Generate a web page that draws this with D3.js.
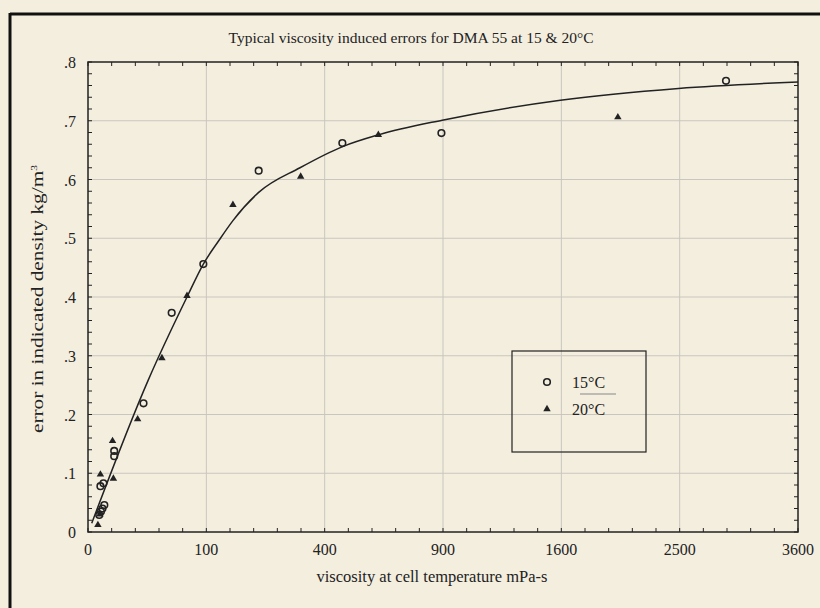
<!DOCTYPE html>
<html>
<head>
<meta charset="utf-8">
<script src="https://cdn.jsdelivr.net/npm/d3@7"></script>
<style>
	body { margin: 0; background: #f4eedf; }
	svg { display: block; }
	text { font-family: "Liberation Serif", "Times New Roman", serif; fill: #222; }
</style>
</head>
<body>
<svg id="chart" width="820" height="608"></svg>
<script>

// values (viscosity mPa-s, error kg/m3)
var visc15 = [0.9, 1.2, 1.5, 1.9, 1.1, 1.7, 4.9, 4.9, 22, 50, 95, 208, 462, 892, 2907];
var err15  = [0.029, 0.035, 0.040, 0.046, 0.078, 0.083, 0.138, 0.129, 0.219, 0.373, 0.456, 0.615, 0.662, 0.679, 0.768];

var visc20 = [0.7, 1.0, 1.1, 4.6, 4.3, 17.6, 39, 70, 150, 323, 602, 2005];
var err20  = [0.012, 0.030, 0.098, 0.091, 0.155, 0.192, 0.296, 0.402, 0.557, 0.605, 0.676, 0.706];

// fitted line
var fitVisc = [0.1, 26, 70, 95, 123, 150, 208, 321, 463, 602, 896, 1594, 2490, 3600];
var fitErr  = [0.015, 0.259, 0.40, 0.456, 0.497, 0.530, 0.578, 0.620, 0.656, 0.676, 0.701, 0.735, 0.755, 0.766];

var xTicks = [0, 100, 400, 900, 1600, 2500, 3600];
var yTicks = [0, 0.1, 0.2, 0.3, 0.4, 0.5, 0.6, 0.7, 0.8];

var seriesNames = ["15\u00B0C", "20\u00B0C"];

var ink = "#222";

var svg = d3.select("#chart");

var plotLeft = 88, plotRight = 798, plotTop = 62, plotBottom = 532;

var x = d3.scaleSqrt().domain([0, 3600]).range([plotLeft, plotRight]);
var y = d3.scaleLinear().domain([0, 0.8]).range([plotBottom, plotTop]);

// page frame
svg.append("line")
	.attr("x1", 10).attr("x2", 820).attr("y1", 14).attr("y2", 14)
	.attr("stroke", "#111").attr("stroke-width", 3);
svg.append("line")
	.attr("x1", 10).attr("x2", 10).attr("y1", 13).attr("y2", 608)
	.attr("stroke", "#111").attr("stroke-width", 3);

// title
svg.append("text")
	.attr("x", 411).attr("y", 43)
	.attr("text-anchor", "middle")
	.style("font-size", "15.5px")
	.text("Typical viscosity induced errors for DMA 55 at 15 & 20\u00B0C");

// grid
var grid = svg.append("g").attr("stroke", "#c9c6bd").attr("stroke-width", 1);

grid.selectAll(".gx")
	.data(xTicks.slice(1, -1))
	.enter().append("line")
	.attr("x1", function(d) { return x(d); })
	.attr("x2", function(d) { return x(d); })
	.attr("y1", plotTop).attr("y2", plotBottom);

grid.selectAll(".gy")
	.data(yTicks.slice(1, -1))
	.enter().append("line")
	.attr("x1", plotLeft).attr("x2", plotRight)
	.attr("y1", function(d) { return y(d); })
	.attr("y2", function(d) { return y(d); });

// minor ticks, inside the frame
var xMinor = d3.range(0, 61, 2).map(function(s) { return s * s; });
var yMinor = d3.range(0, 41).map(function(i) { return i * 0.02; });

var ticks = svg.append("g").attr("stroke", ink).attr("stroke-width", 1);

xMinor.forEach(function(d) {
	ticks.append("line").attr("x1", x(d)).attr("x2", x(d)).attr("y1", plotBottom).attr("y2", plotBottom - 4);
	ticks.append("line").attr("x1", x(d)).attr("x2", x(d)).attr("y1", plotTop).attr("y2", plotTop + 4);
});

yMinor.forEach(function(d) {
	ticks.append("line").attr("x1", plotLeft).attr("x2", plotLeft + 4).attr("y1", y(d)).attr("y2", y(d));
	ticks.append("line").attr("x1", plotRight).attr("x2", plotRight - 4).attr("y1", y(d)).attr("y2", y(d));
});

// plot frame
svg.append("rect")
	.attr("x", plotLeft).attr("y", plotTop)
	.attr("width", plotRight - plotLeft).attr("height", plotBottom - plotTop)
	.attr("fill", "none").attr("stroke", ink).attr("stroke-width", 1.5);

// tick labels
svg.selectAll(".xl")
	.data(xTicks)
	.enter().append("text")
	.attr("x", function(d) { return x(d); })
	.attr("y", 555)
	.attr("text-anchor", "middle")
	.style("font-size", "16px")
	.text(function(d) { return d; });

svg.selectAll(".yl")
	.data(yTicks)
	.enter().append("text")
	.attr("x", 76)
	.attr("y", function(d) { return y(d) + 6; })
	.attr("text-anchor", "end")
	.style("font-size", "16px")
	.text(function(d) { return d == 0 ? "0" : d3.format(".1f")(d).replace(/^0/, ""); });

// axis titles
svg.append("text")
	.attr("x", 432).attr("y", 582)
	.attr("text-anchor", "middle")
	.style("font-size", "16.5px")
	.text("viscosity at cell temperature mPa-s");

// the scan is squeezed sideways, so the rotated title reads long and narrow
var yTitle = svg.append("text")
	.attr("transform", "translate(43," + ((plotTop + plotBottom) / 2 + 2) + ") rotate(-90)")
	.attr("text-anchor", "middle")
	.attr("textLength", 268)
	.attr("lengthAdjust", "spacingAndGlyphs")
	.style("font-size", "16.5px");
yTitle.append("tspan").text("error in indicated density kg/m");
yTitle.append("tspan").attr("dy", -6).style("font-size", "9px").text("3");

// fitted curve
var fit = fitVisc.map(function(v, i) { return [v, fitErr[i]]; });

svg.append("path")
	.datum(fit)
	.attr("fill", "none")
	.attr("stroke", ink)
	.attr("stroke-width", 1.5)
	.attr("d", d3.line()
		.x(function(d) { return x(d[0]); })
		.y(function(d) { return y(d[1]); })
		.curve(d3.curveMonotoneX));

// points
var pts15 = visc15.map(function(v, i) { return [v, err15[i]]; });
var pts20 = visc20.map(function(v, i) { return [v, err20[i]]; });

var triangle = d3.symbol().type(d3.symbolTriangle).size(24);

svg.selectAll(".p15")
	.data(pts15)
	.enter().append("circle")
	.attr("cx", function(d) { return x(d[0]); })
	.attr("cy", function(d) { return y(d[1]); })
	.attr("r", 3.3)
	.attr("fill", "none")
	.attr("stroke", ink)
	.attr("stroke-width", 1.6);

svg.selectAll(".p20")
	.data(pts20)
	.enter().append("path")
	.attr("d", triangle)
	.attr("transform", function(d) { return "translate(" + x(d[0]) + "," + y(d[1]) + ")"; })
	.attr("fill", ink);

// legend
var legend = svg.append("g");

legend.append("rect")
	.attr("x", 512).attr("y", 351)
	.attr("width", 134).attr("height", 101)
	.attr("fill", "none").attr("stroke", ink).attr("stroke-width", 1.2);

legend.append("circle")
	.attr("cx", 547).attr("cy", 382).attr("r", 3.3)
	.attr("fill", "none").attr("stroke", ink).attr("stroke-width", 1.6);

legend.append("path")
	.attr("d", triangle)
	.attr("transform", "translate(547,409)")
	.attr("fill", ink);

legend.append("line")
	.attr("x1", 580).attr("x2", 616).attr("y1", 394).attr("y2", 394)
	.attr("stroke", "#888").attr("stroke-width", 1);

legend.selectAll(".lt")
	.data(seriesNames)
	.enter().append("text")
	.attr("x", 572)
	.attr("y", function(d, i) { return 388 + i * 27; })
	.style("font-size", "16px")
	.text(function(d) { return d; });

</script>
</body>
</html>
